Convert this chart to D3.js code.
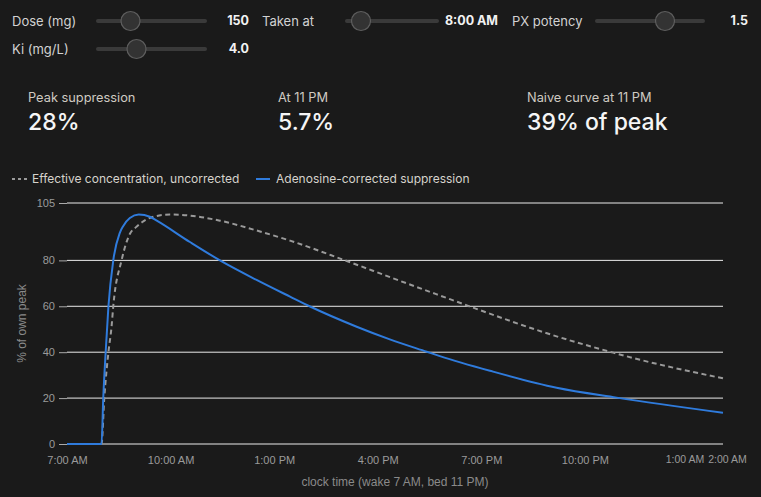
<!DOCTYPE html>
<html>
<head>
<meta charset="utf-8">
<script src="https://cdn.jsdelivr.net/npm/d3@7"></script>
<style>
  html, body { margin: 0; padding: 0; background: #1a1a1a; }
  svg { display: block; }
</style>
</head>
<body>
<svg id="chart" width="761" height="497"></svg>
<script>
// ---- data ----
const hoursCorrected = [7, 8, 8.05, 8.12, 8.2, 8.34, 8.53, 8.63, 8.82, 9.08, 9.4, 9.6, 10.56, 11.43, 12.49, 13.46, 14.04, 15.39, 16.35, 17.42, 17.8, 19.25, 21.18, 22.92, 26];
const corrected      = [0, 0, 20, 40, 60, 80, 92, 95, 98.5, 100, 99, 97.3, 88, 80, 71.5, 64.2, 59.9, 51.1, 45.6, 40.2, 38.3, 31.9, 24.5, 20.2, 13.6];

const hoursNaive = [7, 8, 8.08, 8.2, 8.29, 8.34, 8.58, 8.82, 9.0, 9.21, 9.5, 9.98, 10.56, 11.43, 12.59, 13.46, 15.0, 16.55, 18.09, 18.58, 21.18, 22.82, 23.21, 26];
const naive      = [0, 0, 20, 40, 51, 60, 80, 91.5, 94.5, 97, 99, 100, 99.5, 97.3, 92.6, 88.6, 80.3, 71.6, 63.1, 60.4, 46.9, 39.8, 38.2, 28.6];

const xTickHours = [7, 10, 13, 16, 19, 22, 25, 26];
const yTickValues = [0, 20, 40, 60, 80, 105];

const sliderLabels = ["Dose (mg)", "Taken at", "PX potency", "Ki (mg/L)"];
const sliderValues = ["150", "8:00 AM", "1.5", "4.0"];
const statLabels = ["Peak suppression", "At 11 PM", "Naive curve at 11 PM"];
const statValues = ["28%", "5.7%", "39% of peak"];
const legendLabels = ["Effective concentration, uncorrected", "Adenosine-corrected suppression"];

// ---- layout ----
const svg = d3.select("#chart");
const uiFont = "Inter, 'Noto Sans', sans-serif";
const axFont = "'Liberation Sans', Arial, sans-serif";

// sliders
const sliders = [
  {lx: 12, y: 21, t0: 98, t1: 205, thumb: 130.5, vx: 249},
  {lx: 262, y: 21, t0: 347, t1: 437, thumb: 361, vx: 498},
  {lx: 512, y: 21, t0: 597, t1: 703, thumb: 665, vx: 748},
  {lx: 12, y: 49, t0: 98, t1: 205, thumb: 136.5, vx: 249}
];
const sg = svg.append("g");
sliders.forEach((s, i) => {
  sg.append("text").attr("x", s.lx).attr("y", s.y).attr("dy", "0.35em")
    .attr("fill", "#d2d2d2").attr("font-family", uiFont).attr("font-size", 13)
    .text(sliderLabels[i]);
  sg.append("line").attr("x1", s.t0).attr("x2", s.t1).attr("y1", s.y).attr("y2", s.y)
    .attr("stroke", "#3a3a3a").attr("stroke-width", 4).attr("stroke-linecap", "round");
  sg.append("circle").attr("cx", s.thumb).attr("cy", s.y).attr("r", 9.5)
    .attr("fill", "#333").attr("stroke", "#5e5e5e").attr("stroke-width", 1.2);
  sg.append("text").attr("x", s.vx).attr("y", s.y).attr("dy", "0.35em")
    .attr("text-anchor", "end").attr("fill", "#f2f2f2").attr("font-weight", 700)
    .attr("font-family", uiFont).attr("font-size", 12.5).text(sliderValues[i]);
});

// stats
const statX = [28, 278, 527];
statLabels.forEach((l, i) => {
  svg.append("text").attr("x", statX[i]).attr("y", 102)
    .attr("fill", "#cfcac2").attr("font-family", uiFont).attr("font-size", 12.8).text(l);
  svg.append("text").attr("x", statX[i]).attr("y", 129.5)
    .attr("fill", "#f5f5f5").attr("font-family", uiFont).attr("font-weight", 500)
    .attr("font-size", 23).text(statValues[i]);
});

// legend
const lg = svg.append("g");
lg.append("line").attr("x1", 12).attr("x2", 27).attr("y1", 179).attr("y2", 179)
  .attr("stroke", "#9a9a9a").attr("stroke-width", 2).attr("stroke-dasharray", "3,3");
lg.append("text").attr("x", 32).attr("y", 179).attr("dy", "0.35em")
  .attr("fill", "#d6d3cc").attr("font-family", uiFont).attr("font-size", 12).text(legendLabels[0]);
lg.append("line").attr("x1", 256).attr("x2", 270).attr("y1", 179).attr("y2", 179)
  .attr("stroke", "#2f7bdc").attr("stroke-width", 2);
lg.append("text").attr("x", 276).attr("y", 179).attr("dy", "0.35em")
  .attr("fill", "#d6d3cc").attr("font-family", uiFont).attr("font-size", 12).text(legendLabels[1]);

// chart
const x = d3.scaleLinear().domain([7, 26]).range([67, 723]);
const y = d3.scaleLinear().domain([0, 105]).range([444, 203]);

// grid
svg.append("g").selectAll("line").data(yTickValues).join("line")
  .attr("x1", x(7)).attr("x2", x(26))
  .attr("y1", d => y(d)).attr("y2", d => y(d))
  .attr("stroke", "#ebebeb").attr("stroke-width", 1);

// y axis
const yAxis = svg.append("g").attr("transform", `translate(${x(7)},0)`)
  .call(d3.axisLeft(y).tickValues(yTickValues).tickSize(8).tickPadding(4));
yAxis.select(".domain").remove();
yAxis.selectAll(".tick line").attr("stroke", "#aaa");
yAxis.selectAll(".tick text").attr("fill", "#9a9a9a").attr("font-family", axFont).attr("font-size", 11);

// x axis
const fmtHour = h => {
  const hh = h % 24;
  const ampm = hh < 12 ? "AM" : "PM";
  let h12 = hh % 12; if (h12 === 0) h12 = 12;
  return `${h12}:00 ${ampm}`;
};
const xAxis = svg.append("g").attr("transform", `translate(0,${y(0)})`)
  .call(d3.axisBottom(x).tickValues(xTickHours).tickFormat(fmtHour).tickSize(0).tickPadding(12));
xAxis.select(".domain").remove();
xAxis.selectAll(".tick text").attr("fill", "#9a9a9a").attr("font-family", axFont).attr("font-size", 11);
// the last two ticks sit very close: nudge them apart slightly so they do not collide
xAxis.selectAll(".tick").filter(d => d === 25).select("text").attr("dx", -4).attr("font-size", 10.5);
xAxis.selectAll(".tick").filter(d => d === 26).select("text").attr("dx", 4).attr("font-size", 10.5);

// axis titles
svg.append("text").attr("transform", `translate(26,${(y(0) + y(105)) / 2}) rotate(-90)`)
  .attr("text-anchor", "middle").attr("fill", "#8a8a8a").attr("font-family", axFont)
  .attr("font-size", 12).text("% of own peak");
svg.append("text").attr("x", (x(7) + x(26)) / 2).attr("y", 486)
  .attr("text-anchor", "middle").attr("fill", "#8a8a8a").attr("font-family", axFont)
  .attr("font-size", 12).text("clock time (wake 7 AM, bed 11 PM)");

// lines
const line = d3.line().x(d => x(d[0])).y(d => y(d[1])).curve(d3.curveMonotoneX);
svg.append("path").datum(d3.zip(hoursNaive, naive))
  .attr("d", line).attr("fill", "none").attr("stroke", "#9a9a9a")
  .attr("stroke-width", 2).attr("stroke-dasharray", "5,3.5");
svg.append("path").datum(d3.zip(hoursCorrected, corrected))
  .attr("d", line).attr("fill", "none").attr("stroke", "#2f7bdc")
  .attr("stroke-width", 2);
</script>
</body>
</html>
